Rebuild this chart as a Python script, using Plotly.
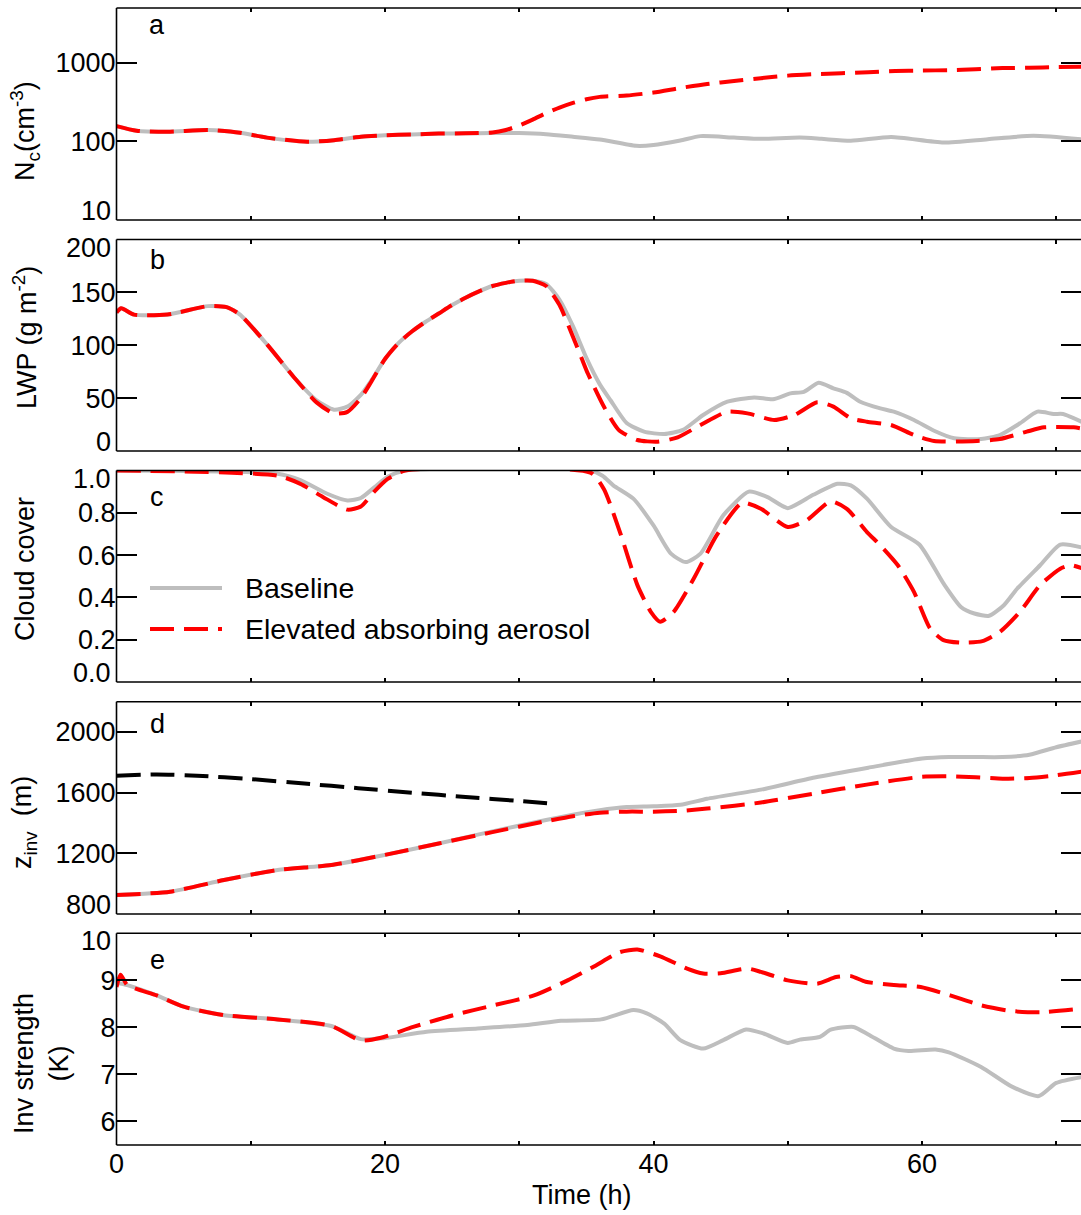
import plotly.graph_objects as go

# ---------------- data ----------------
# Panel a: cloud droplet number (cm^-3)
t_a_base = [0, 1.5, 3.8, 6.8, 9.2, 11.2, 14.2, 16.2, 18.2, 20, 22, 24, 26, 28, 30, 32, 34, 36, 38.7, 40, 42,
            43.5, 46, 48, 50.9, 52.5, 54.7, 57.7, 61.6, 64.9, 68.3, 72]
nc_base = [157, 137, 133, 140, 129, 112, 99, 104, 115, 120, 123, 126, 127, 128, 128, 124, 115, 106, 88, 90, 103,
           117, 112, 108, 112, 108, 102, 114, 97, 107, 118, 106]
t_a_aer = [0, 1.5, 3.8, 6.8, 9.2, 11.2, 14.2, 16.2, 18.2, 20, 22, 24, 26, 28, 29, 30, 31, 32, 33, 34, 35, 36, 38,
           40, 42, 44, 46, 48, 50, 52, 54, 56, 58, 60, 62, 64, 66, 68, 70, 72]
nc_aer = [157, 137, 133, 140, 129, 112, 99, 104, 115, 120, 123, 126, 127, 130, 140, 160, 190, 230, 270, 310, 345,
          370, 385, 420, 480, 540, 590, 640, 690, 720, 740, 760, 790, 800, 810, 830, 860, 870, 885, 895]

# Panel b: liquid water path (g m^-2)
t_b_base = [0, 0.35, 1.3, 3.8, 6.8, 8.2, 9.2, 11.2, 13.2, 14.9, 16.2, 17.2, 18.2, 19, 20, 21, 22, 23, 24, 25, 26,
            27, 28, 29, 30, 31, 32, 33, 34, 35, 36, 36.8, 38, 39.3, 40.8, 42.2, 43.7, 45.5, 47.5, 48.9, 50.2, 51.2,
            52.3, 53.4, 54.4, 55.4, 56.9, 57.9, 59.4, 60.9, 62.4, 64.4, 65.8, 67.3, 68.6, 69.8, 70.5, 72]
lwp_base = [131, 135, 129, 129, 137, 136, 129, 101, 70, 48, 39, 42, 53, 67, 87, 102, 113, 122, 130, 138, 145,
            151, 156, 159, 161, 161, 158, 143, 118, 88, 63, 48, 26.5, 18.3, 16, 20, 34, 46.6, 50.7, 48.9, 54.5, 56,
            64.6, 59.3, 55, 46.6, 40.3, 37.2, 29.3, 19.2, 12, 11.3, 15.1, 26.2, 37.2, 35, 35, 27]
t_b_aer = [0, 0.35, 1.3, 3.8, 6.8, 8.2, 9.2, 11.2, 13.2, 14.9, 16.2, 17.2, 18.2, 19, 20, 21, 22, 23, 24, 25, 26,
           27, 28, 29, 30, 31, 32, 33, 34, 34.7, 35.1, 36.3, 37.4, 38.8, 40.3, 41.8, 43.5, 45.5, 47.0, 49.0, 50.5,
           52.2, 53.4, 54.7, 55.9, 57.7, 59.4, 60.9, 64.1, 65.8, 67.8, 69.1, 71.3, 72]
lwp_aer = [131, 135, 129, 129, 137, 136, 129, 101, 70, 46, 35.5, 37, 50, 66, 87, 102, 113, 122, 130, 138, 145,
           151, 156, 159, 161, 161, 156, 138, 108, 86, 73.5, 42, 20, 10.4, 8.8, 12.9, 24.6, 37.2, 35.6, 29.3, 34,
           46, 42, 30.9, 27.7, 24.6, 15.1, 9.5, 9.5, 11.3, 18.3, 22.4, 22.4, 21]

# Panel c: cloud cover
t_c_base = [0, 12, 13.7, 15.7, 17.2, 18.2, 19.2, 20.2, 21.5, 35.3, 36.2, 37.0, 38.5, 40.0, 41.3, 42.4, 43.5, 45.2,
            47.1, 48.5, 50.0, 51.9, 53.7, 54.7, 55.9, 57.7, 59.8, 61.6, 62.9, 63.9, 65.0, 66.1, 67.1, 68.8, 70.3,
            72]
cc_base = [1.0, 0.985, 0.955, 0.89, 0.858, 0.87, 0.92, 0.97, 1.0, 1.0, 0.975, 0.93, 0.867, 0.74, 0.607, 0.567,
           0.607, 0.788, 0.90, 0.874, 0.822, 0.885, 0.937, 0.93, 0.867, 0.733, 0.65, 0.466, 0.355, 0.324, 0.313,
           0.363, 0.442, 0.552, 0.65, 0.635]
t_c_aer = [0, 12, 13.7, 15.4, 17.2, 18.2, 19.2, 20.2, 21.5, 35.3, 36.3, 37.5, 38.8, 39.8, 40.5, 41.5, 43.0, 44.7,
           46.6, 48.0, 50.0, 51.4, 53.2, 54.4, 55.9, 56.9, 58.2, 59.4, 60.6, 61.6, 62.9, 64.5, 65.8, 67.3, 68.8,
           70.3, 71.1, 72]
cc_aer = [1.0, 0.976, 0.937, 0.874, 0.815, 0.83, 0.9, 0.96, 1.0, 0.99, 0.913, 0.709, 0.458, 0.332, 0.285, 0.332,
          0.489, 0.693, 0.847, 0.819, 0.733, 0.764, 0.854, 0.819, 0.709, 0.646, 0.552, 0.426, 0.253, 0.198, 0.186,
          0.193, 0.237, 0.332, 0.458, 0.536, 0.552, 0.536]

# Panel d: inversion height (m)
t_d_base = [0, 4, 8, 12, 16, 20, 24, 28, 32, 34, 36, 38, 40, 42, 44, 48, 52, 56, 60, 62, 64, 66, 68, 70, 72]
zi_base = [925, 947, 1024, 1090, 1123, 1190, 1265, 1345, 1420, 1455, 1485, 1505, 1510, 1520, 1560, 1620, 1700,
           1765, 1825, 1835, 1835, 1835, 1850, 1900, 1940]
t_d_aer = [0, 4, 8, 12, 16, 20, 24, 28, 32, 34, 36, 38, 40, 42, 44, 48, 52, 56, 60, 62, 64, 66, 68, 70, 72]
zi_aer = [925, 947, 1024, 1090, 1123, 1190, 1265, 1340, 1412, 1445, 1468, 1475, 1475, 1480, 1495, 1535, 1595,
          1655, 1705, 1708, 1702, 1692, 1697, 1715, 1740]
t_d_smoke = [0, 3, 6, 10, 14, 18, 22, 26, 30, 32.7]
z_smoke = [1712, 1720, 1712, 1690, 1660, 1630, 1600, 1572, 1545, 1525]

# Panel e: inversion strength (K)
t_e_base = [0, 0.8, 3, 5, 8, 12, 16, 18.2, 19.9, 23.1, 26.9, 30.6, 33.1, 36.1, 38.5, 39.5, 40.8, 42.0, 43.7, 45.2,
            46.9, 48.2, 50.0, 50.9, 52.4, 53.2, 54.9, 56, 57.9, 59, 61, 62, 64.4, 66.7, 68.7, 70.0, 72]
inv_base = [8.95, 8.9, 8.68, 8.44, 8.26, 8.17, 8.03, 7.75, 7.77, 7.906, 7.977, 8.05, 8.14, 8.17, 8.37, 8.3, 8.08,
            7.73, 7.55, 7.73, 7.956, 7.87, 7.67, 7.74, 7.8, 7.95, 8.01, 7.85, 7.55, 7.5, 7.53, 7.47, 7.16, 6.74,
            6.54, 6.82, 6.95]
t_e_aer = [0, 0.3, 0.8, 3, 5, 8, 12, 16, 18.2, 19.7, 22.1, 25.1, 28.1, 31.1, 33.6, 35.6, 37.5, 38.8, 40.5, 42.5,
           43.7, 45.0, 47.0, 48.0, 50.0, 52.2, 53.6, 54.7, 55.8, 57.9, 59.9, 62.1, 64.4, 66.6, 68.8, 72]
inv_aer = [8.86, 9.12, 8.9, 8.68, 8.44, 8.26, 8.17, 8.03, 7.72, 7.78, 8.01, 8.26, 8.47, 8.68, 9.0, 9.3, 9.6, 9.655,
           9.51, 9.25, 9.145, 9.15, 9.25, 9.18, 9.0, 8.93, 9.07, 9.09, 8.97, 8.9, 8.86, 8.68, 8.47, 8.35, 8.32, 8.4]

x_tickvals = [0, 10, 20, 30, 40, 50, 60, 70]
x_ticktext = ["0", "", "20", "", "40", "", "60", ""]
y_tickvals = [[10, 100, 1000], [0, 50, 100, 150, 200], [0, 0.2, 0.4, 0.6, 0.8, 1.0],
              [800, 1200, 1600, 2000], [6, 7, 8, 9, 10]]
y_ticktext = [["10", "100", "1000"], ["0", "50", "100", "150", "200"],
              ["0.0", "0.2", "0.4", "0.6", "0.8", "1.0"], ["800", "1200", "1600", "2000"],
              ["6", "7", "8", "9", "10"]]
panel_letters = ["a", "b", "c", "d", "e"]
y_titles = ["N<sub>c</sub>(cm<sup>-3</sup>)", "LWP (g m<sup>-2</sup>)", "Cloud cover",
            "z<sub>inv</sub>  (m)", "Inv strength<br>(K)"]
legend_names = ["Baseline", "Elevated absorbing aerosol"]

# ---------------- style ----------------
W, H = 1081, 1215
FONT = "Liberation Sans, Arial, Helvetica, sans-serif"
GRAY = "#BEBEBE"
RED = "#FF0000"
DASH = "24px,10px"
FS = 27

# panel pixel extents (top, bottom)
panels_px = [(8, 220), (239.5, 451), (470.5, 682), (701.7, 914), (933.3, 1145)]
y_ranges = [[1, 3.7], [0, 200], [0, 1.0], [800, 2200], [5.5, 10]]
x_left_px = 116.5
x_dom = [x_left_px / W, 1.0]
x_range = [0, (W - x_left_px) / 13.425]


def py(p):
    return 1 - p / H


def px(p):
    return p / W


fig = go.Figure()

series = [
    [(t_a_base, nc_base, GRAY, "solid"), (t_a_aer, nc_aer, RED, DASH)],
    [(t_b_base, lwp_base, GRAY, "solid"), (t_b_aer, lwp_aer, RED, DASH)],
    [(t_c_base, cc_base, GRAY, "solid"), (t_c_aer, cc_aer, RED, DASH)],
    [(t_d_base, zi_base, GRAY, "solid"), (t_d_aer, zi_aer, RED, DASH), (t_d_smoke, z_smoke, "black", DASH)],
    [(t_e_base, inv_base, GRAY, "solid"), (t_e_aer, inv_aer, RED, DASH)],
]

for i, lst in enumerate(series):
    n = i + 1
    xa = "x" if n == 1 else f"x{n}"
    ya = "y" if n == 1 else f"y{n}"
    for (tx, vy, col, dash) in lst:
        fig.add_trace(go.Scatter(x=tx, y=vy, mode="lines", xaxis=xa, yaxis=ya, showlegend=False,
                                 line=dict(color=col, width=4, dash=dash, shape="spline", smoothing=0.6)))

layout = dict(width=W, height=H, margin=dict(l=0, r=0, t=0, b=0, autoexpand=False), paper_bgcolor="white",
              plot_bgcolor="white", font=dict(family=FONT, size=FS, color="black"), showlegend=False)

edge_labels = []  # (text, y pixel) for labels at the panel edges, nudged inward
for i in range(5):
    n = i + 1
    top, bot = panels_px[i]
    xkey = "xaxis" if n == 1 else f"xaxis{n}"
    ykey = "yaxis" if n == 1 else f"yaxis{n}"
    layout[xkey] = dict(domain=x_dom, range=x_range, anchor="y" if n == 1 else f"y{n}",
                        tickvals=x_tickvals, ticktext=x_ticktext, ticks="inside", ticklen=4,
                        tickwidth=1.5, tickcolor="black", mirror="ticks", showline=False,
                        showgrid=False, zeroline=False, showticklabels=(n == 5), automargin=False,
                        tickfont=dict(size=FS))
    lo, hi = y_ranges[i]
    texts = []
    for v, s in zip(y_tickvals[i], y_ticktext[i]):
        vv = __import__("math").log10(v) if i == 0 else v
        if abs(vv - lo) < 1e-9:
            texts.append("")
            edge_labels.append((s, bot - 9))
        elif abs(vv - hi) < 1e-9:
            texts.append("")
            edge_labels.append((s, top + 8))
        else:
            texts.append(s)
    yd = dict(domain=[py(bot), py(top)], anchor="x" if n == 1 else f"x{n}", ticks="inside",
              ticklen=20, tickwidth=1.5, tickcolor="black", mirror="ticks", showline=False,
              showgrid=False, zeroline=False, tickfont=dict(size=FS), automargin=False,
              range=y_ranges[i], tickvals=y_tickvals[i], ticktext=texts)
    if i == 0:
        yd["type"] = "log"
    layout[ykey] = yd

fig.update_layout(**layout)

# frames (left, top, bottom spines)
shapes = []
for (top, bot) in panels_px:
    for (x0, y0, x1, y1) in [(x_left_px, top, x_left_px, bot), (x_left_px, top, W + 5, top),
                             (x_left_px, bot, W + 5, bot)]:
        shapes.append(dict(type="line", xref="paper", yref="paper", x0=px(x0), y0=py(y0), x1=px(x1),
                           y1=py(y1), line=dict(color="black", width=1.6)))

# legend sample lines
shapes.append(dict(type="line", xref="paper", yref="paper", x0=px(150), x1=px(222), y0=py(588), y1=py(588),
                   line=dict(color=GRAY, width=4)))
shapes.append(dict(type="line", xref="paper", yref="paper", x0=px(150), x1=px(222), y0=py(629), y1=py(629),
                   line=dict(color=RED, width=4, dash=DASH)))
fig.update_layout(shapes=shapes)

ann = []
for s, yy in edge_labels:
    ann.append(dict(text=s, xref="paper", yref="paper", x=px(113), y=py(yy), showarrow=False,
                    xanchor="right", yanchor="middle", font=dict(size=FS)))

letter_y = [25, 260, 497, 724, 960]
for L, yy in zip(panel_letters, letter_y):
    ann.append(dict(text=L, xref="paper", yref="paper", x=px(157), y=py(yy), showarrow=False,
                    xanchor="center", yanchor="middle", font=dict(size=FS)))

title_pos = [(25, 131), (25, 338), (25, 569), (24, 823), (41, 1064)]
for t, (xx, yy) in zip(y_titles, title_pos):
    ann.append(dict(text=t, xref="paper", yref="paper", x=px(xx), y=py(yy), showarrow=False,
                    textangle=-90, xanchor="center", yanchor="middle", font=dict(size=FS)))

ann.append(dict(text="Time (h)", xref="paper", yref="paper", x=px(582), y=py(1195), showarrow=False,
                xanchor="center", yanchor="middle", font=dict(size=FS)))
ann.append(dict(text=legend_names[0], xref="paper", yref="paper", x=px(243), y=py(588), showarrow=False,
                xanchor="left", yanchor="middle", font=dict(size=28.5)))
ann.append(dict(text=legend_names[1], xref="paper", yref="paper", x=px(243), y=py(629), showarrow=False,
                xanchor="left", yanchor="middle", font=dict(size=28.5)))
fig.update_layout(annotations=ann)

fig.write_html("out.html")
